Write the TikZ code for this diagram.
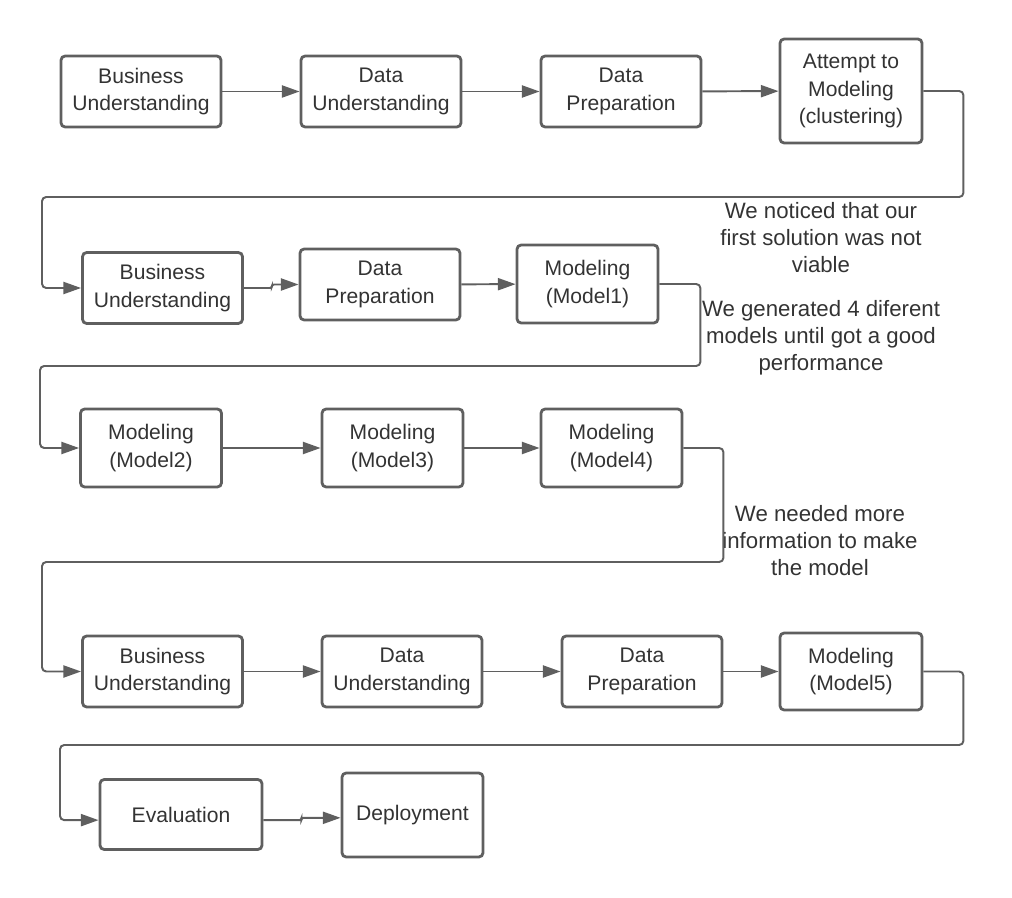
\documentclass[tikz,border=0pt]{standalone}
\usepackage{fontspec}
\setmainfont{Liberation Sans}
\usetikzlibrary{arrows.meta}

\definecolor{linegray}{RGB}{95,95,95}
\definecolor{textgray}{RGB}{51,51,51}

\tikzset{
  stage/.style={draw=linegray, line width=2pt, rounded corners=3pt, fill=white,
    align=center, inner sep=0pt, text=textgray,
    font=\fontsize{15}{19.4}\selectfont},
  note/.style={align=center, text=textgray, font=\fontsize{15.8}{19.2}\selectfont},
  conn/.style={draw=linegray, line width=1.4pt, rounded corners=3pt,
    -{Triangle[length=0.44cm, width=0.3cm]}},
}

\begin{document}
\begin{tikzpicture}[x=0.025cm, y=-0.025cm]
  \useasboundingbox (0,0) rectangle (1012,898);

  % first pass
  \node[stage, minimum width=4cm, minimum height=1.775cm] (bu1) at ({141}, 91.5) {Business\\Understanding};
  \node[stage, minimum width=4cm, minimum height=1.775cm] (du1) at ({381}, 91.5) {Data\\Understanding};
  \node[stage, minimum width=4cm, minimum height=1.775cm] (dp1) at ({621}, 91.5) {Data\\Preparation};
  \node[stage, minimum width=3.55cm, minimum height=2.6cm] (att) at ({851}, 91) {Attempt to\\Modeling\\(clustering)};

  \draw[conn] (bu1) -- (du1);
  \draw[conn] (du1) -- (dp1);
  \draw[conn] (dp1) -- (att);

  % second pass
  \node[stage, minimum width=4cm, minimum height=1.775cm] (bu2) at ({162.5}, 288) {Business\\Understanding};
  \node[stage, minimum width=4cm, minimum height=1.775cm] (dp2) at ({380}, 284.5) {Data\\Preparation};
  \node[stage, minimum width=3.525cm, minimum height=1.95cm] (mo1) at ({587.5}, 284) {Modeling\\(Model1)};

  \coordinate (back1) at ({42}, 197);
  \draw[conn] (att.east) -- ++(40,0) |- (back1) |- (bu2.west);
  \draw[conn, rounded corners=1.5pt] (bu2.east) -- ++(28,0) |- (dp2.west);
  \draw[conn] (dp2) -- (mo1);

  \node[note] (why1) at ({821}, 238) {We noticed that our\\first solution was not\\viable};
  \node[note] (why2) at ({821}, 338) {We generated 4 diferent\\models until got a good\\performance};

  % modeling loop
  \node[stage, minimum width=3.525cm, minimum height=1.95cm] (mo2) at ({151}, 448) {Modeling\\(Model2)};
  \node[stage, minimum width=3.525cm, minimum height=1.95cm] (mo3) at ({392.5}, 448) {Modeling\\(Model3)};
  \node[stage, minimum width=3.525cm, minimum height=1.95cm] (mo4) at ({611.5}, 448) {Modeling\\(Model4)};

  \coordinate (back2) at ({40}, 366);
  \draw[conn] (mo1.east) -- ++(41,0) |- (back2) |- (mo2.west);
  \draw[conn] (mo2) -- (mo3);
  \draw[conn] (mo3) -- (mo4);

  \node[note] (why3) at ({820}, 541) {We needed more\\information to make\\the model};

  % third pass
  \node[stage, minimum width=4cm, minimum height=1.775cm] (bu3) at ({162.5}, 671.5) {Business\\Understanding};
  \node[stage, minimum width=4cm, minimum height=1.775cm] (du3) at ({402}, 671.5) {Data\\Understanding};
  \node[stage, minimum width=4cm, minimum height=1.775cm] (dp3) at ({642}, 671.5) {Data\\Preparation};
  \node[stage, minimum width=3.55cm, minimum height=1.925cm] (mo5) at ({851}, 671.5) {Modeling\\(Model5)};

  \coordinate (back3) at ({42}, 562);
  \draw[conn] (mo4.east) -- ++(40,0) |- (back3) |- (bu3.west);
  \draw[conn] (bu3) -- (du3);
  \draw[conn] (du3) -- (dp3);
  \draw[conn] (dp3) -- (mo5);

  % closing
  \node[stage, minimum width=4.05cm, minimum height=1.75cm] (eva) at ({181}, 814.5) {Evaluation};
  \node[stage, minimum width=3.525cm, minimum height=2.1cm] (dep) at ({412.5}, 815) {Deployment};

  \coordinate (back4) at ({60}, 745);
  \draw[conn] (mo5.east) -- ++(40,0) |- (back4) |- ([yshift=-4]eva.west);
  \draw[conn, rounded corners=1.5pt] ([yshift=-4]eva.east) -- ++(38,0) |- ([yshift=-2]dep.west);

\end{tikzpicture}
\end{document}
